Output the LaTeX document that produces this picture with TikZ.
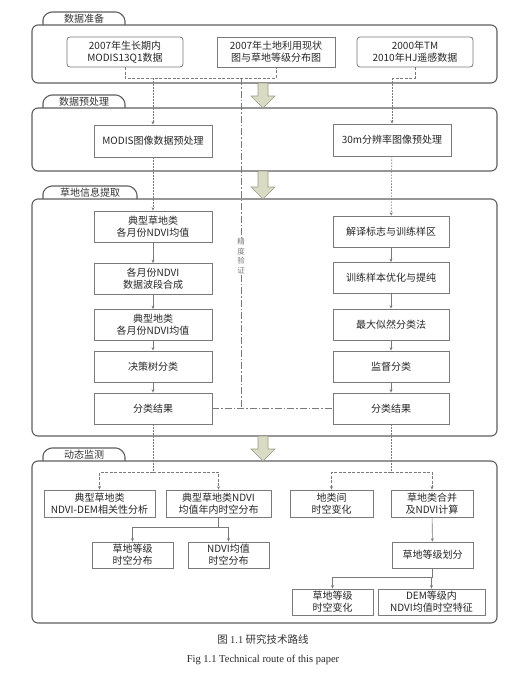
\documentclass[tikz,border=0pt]{standalone}
\usepackage{fontspec}
\setmainfont{Liberation Serif}
\newfontfamily\cjk{Noto Sans CJK SC}
\usetikzlibrary{arrows.meta,positioning,calc}
\definecolor{routegray}{HTML}{7A7A7A}
\definecolor{paneledge}{HTML}{5E5E5E}
\definecolor{arrowfill}{HTML}{DADBC4}
\definecolor{arrowedge}{HTML}{9A9B86}

\begin{document}
\begin{tikzpicture}[x=1pt,y=-1pt,
  font=\cjk\fontsize{10}{12}\selectfont,
  panel/.style={draw=paneledge,line width=1.1pt,rounded corners=6pt},
  tab/.style={draw=paneledge,line width=1.1pt,rounded corners=3pt},
  stepbox/.style={draw=routegray,line width=0.8pt,align=center,inner sep=0pt,text=black!85},
  colbox/.style={stepbox,minimum width=118,minimum height=31},
  monbox/.style={stepbox,minimum height=27},
  flow/.style={draw=routegray,line width=0.6pt,-{Stealth[length=3.5pt,width=3pt]}},
  dashline/.style={draw=routegray,line width=0.6pt,dash pattern=on 3pt off 1.5pt},
  dashflow/.style={dashline,-{Stealth[length=3.5pt,width=3pt]}},
  dotflow/.style={draw=routegray,line width=0.6pt,dash pattern=on 1.5pt off 1.5pt,-{Stealth[length=3.5pt,width=3pt]}},
  checkline/.style={draw=routegray,line width=0.6pt,dash pattern=on 7pt off 2pt on 1.5pt off 2pt},
  bigarrow/.style={draw=arrowedge,fill=arrowfill,line width=0.6pt}]
  \useasboundingbox (0,0) rectangle (532,677);
  % stage panels with their tabs
  \foreach \nm/\top/\bot/\tabr/\lab in {tabprep/25/83/125/数据准备, tabpre/108/171/125/数据预处理,
      tabext/199/436/137/草地信息提取, tabmon/461/623/125/动态监测}{
    \draw[panel] (32,\top) rectangle (497,\bot);
    \draw[tab] (43,\top) -- (43,{\top-8}) -- (49,{\top-13}) -- ({\tabr-6},{\top-13}) -- (\tabr,{\top-7}) -- (\tabr,\top);
    \node[text=black!80,inner sep=0pt] (\nm) at ({(43+\tabr)/2},{\top-6}) {\lab};
  }
  % hollow arrows between stages
  \foreach \yt/\yb in {83/108, 171/199, 436/461}{
    \filldraw[bigarrow] (258,\yt) -- (268,\yt) -- (268,{\yb-12}) -- (275,{\yb-12}) -- (263,\yb)
      -- (251,{\yb-12}) -- (258,{\yb-12}) -- cycle;
  }
  % data preparation
  \node[stepbox,rounded corners=3pt,minimum width=116,minimum height=30] (modisraw) at (125,52) {2007年生长期内\\MODIS13Q1数据};
  \node[stepbox,minimum width=118,minimum height=30] (landmap) at (276,52) {2007年土地利用现状\\图与草地等级分布图};
  \node[stepbox,rounded corners=3pt,minimum width=116,minimum height=30] (tmraw) at (415,52) {2000年TM\\2010年HJ遥感数据};
  % preprocessing
  \node[colbox,minimum height=32] (modispre) at (153,141) {MODIS图像数据预处理};
  \node[colbox,minimum height=32] (hirespre) at (392,140) {30m分辨率图像预处理};
  \coordinate (jleft) at (153,78);
  \coordinate (jcheck) at (241,78);
  \coordinate (jright) at (392,78);
  \draw[dashline] (modisraw.south) |- (jleft) -| (landmap.south);
  \draw[dashline] (tmraw.south) |- (jright);
  \draw[dotflow] (jleft) -- (modispre);
  \draw[dotflow] (jright) -- (hirespre);
  % grassland extraction, left column
  \foreach \nm/\y/\t in {lavg/226.5/{典型草地类\\各月份NDVI均值}, lsyn/279/{各月份NDVI\\数据波段合成},
      ltyp/325/{典型地类\\各月份NDVI均值}, ltree/366.5/决策树分类, lres/408.5/分类结果}
    \node[colbox] (\nm) at (153,\y) {\t};
  \foreach \a/\b in {lavg/lsyn, lsyn/ltyp, ltyp/ltree, ltree/lres}
    \draw[flow] (\a) -- (\b);
  % right column
  \foreach \nm/\y/\t in {rsign/231.5/解译标志与训练样区, rtrain/278/训练样本优化与提纯,
      rml/324.5/最大似然分类法, rsup/366.5/监督分类, rres/408.5/分类结果}
    \node[colbox,minimum width=116] (\nm) at (391,\y) {\t};
  \foreach \a/\b in {rsign/rtrain, rtrain/rml, rml/rsup, rsup/rres}
    \draw[flow] (\a) -- (\b);
  \draw[dotflow] (modispre) -- (lavg);
  \draw[dotflow] (hirespre) -- (rsign);
  % accuracy check
  \node[text=routegray,font=\cjk\fontsize{7.5}{9.5}\selectfont,align=center,inner sep=1pt] (check) at (241,256) {精\\度\\验\\证};
  \draw[checkline] (jcheck) -- (check.north);
  \draw[checkline] (check.south) -- (check.south |- lres.east);
  \draw[checkline] (lres.east) -- (rres.west);
  % dynamic monitoring
  \node[monbox,minimum width=111] (corr) at (99.5,503.5) {典型草地类\\NDVI-DEM相关性分析};
  \node[monbox,minimum width=105] (annual) at (218.5,503.5) {典型草地类NDVI\\均值年内时空分布};
  \node[monbox,minimum width=83] (between) at (331.5,503.5) {地类间\\时空变化};
  \node[monbox,minimum width=82] (merge) at (432,503.5) {草地类合并\\及NDVI计算};
  \node[monbox,minimum width=81,minimum height=26] (gradedist) at (132.5,555) {草地等级\\时空分布};
  \node[monbox,minimum width=81,minimum height=26] (ndvidist) at (228.5,555) {NDVI均值\\时空分布};
  \node[monbox,minimum width=81,minimum height=26] (grading) at (432.5,555) {草地等级划分};
  \node[monbox,minimum width=81,minimum height=26] (gradechg) at (332.5,602) {草地等级\\时空变化};
  \node[monbox,minimum width=107,minimum height=26] (demndvi) at (431.5,602) {DEM等级内\\NDVI均值时空特征};
  \coordinate (jmonl) at (153,472);
  \coordinate (jmonr) at (391,472);
  \coordinate (jann) at (218.5,527);
  \coordinate (jgrade) at (432.5,577);
  \draw[dotflow,-] (lres) -- (jmonl);
  \draw[dashflow] (jmonl) -| (corr.north);
  \draw[dashflow] (jmonl) -| (annual.north);
  \draw[dotflow,-] (rres) -- (jmonr);
  \draw[dashflow] (jmonr) -| (between.north);
  \draw[dashflow] (jmonr) -| (merge.north);
  \draw[routegray,line width=0.6pt] (annual) -- (jann);
  \draw[flow] (jann) -| (gradedist.north);
  \draw[flow] (jann) -| (ndvidist.north);
  \draw[flow] (merge) -- (grading);
  \draw[routegray,line width=0.6pt] (grading) -- (jgrade);
  \draw[flow] (jgrade) -| (gradechg.north);
  \draw[flow] (jgrade) -| (demndvi.north);
  % caption
  \node[font=\cjk\fontsize{10.5}{12}\selectfont,text=black!80] (capcn) at (263,639) {图 {\rmfamily 1.1} 研究技术路线};
  \node[font=\rmfamily\fontsize{10.5}{12}\selectfont,text=black!85] (capen) at (263,660) {Fig 1.1 Technical route of this paper};
\end{tikzpicture}
\end{document}
